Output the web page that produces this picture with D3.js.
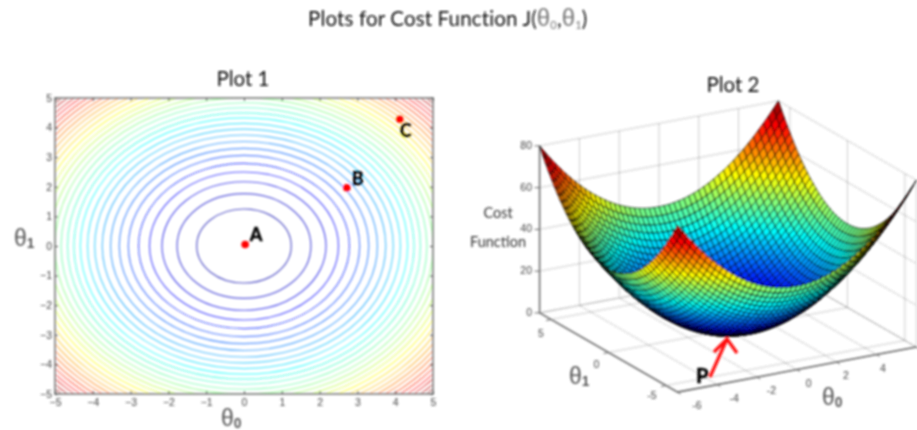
<!DOCTYPE html>
<html lang="en">
<head>
  <meta charset="UTF-8">
  <title>Plots for Cost Function</title>
  <script src="https://d3js.org/d3.v7.min.js"></script>
  <style>
    body { margin: 0; background: #fff; overflow: hidden; }
    svg { display: block; }
    text { font-family: Lato, "Open Sans", sans-serif; }
    .tick-label { font-family: "Liberation Sans", sans-serif; font-size: 10.5px; fill: #444; }
    .theta { font-family: "Liberation Sans", sans-serif; fill: #555; }
    .grid { fill: none; stroke: #555; stroke-width: 0.9; stroke-dasharray: 1 2; }
  </style>
</head>
<body>
  <script>
    const width = 917;
    const height = 430;

    // Plot 1: contour radii read along the theta0 axis, markers, ticks
    const contourRadii = [1.25, 1.77, 2.17, 2.5, 2.79, 3.06, 3.3, 3.53, 3.75, 3.95, 4.14, 4.33, 4.5, 4.67, 4.84, 5.0,
      5.15, 5.3, 5.44, 5.58, 5.72, 5.86, 5.99, 6.12, 6.24, 6.37, 6.49, 6.61, 6.72, 6.84, 6.95, 7.07];
    const contourTicks = [-5, -4, -3, -2, -1, 0, 1, 2, 3, 4, 5];
    const markerNames = ["A", "B", "C"];
    const markerTheta0 = [0.03, 2.72, 4.12];
    const markerTheta1 = [0.05, 1.97, 4.28];

    // Plot 2: cost contributed by |theta| at 0, 0.25, 0.5 ... 6
    const costByAbsTheta = [0, 0.07, 0.28, 0.62, 1.1, 1.7, 2.5, 3.4, 4.4, 5.6, 6.9, 8.4, 10, 11.7, 13.6, 15.6, 17.8,
      20, 22.5, 25, 27.8, 30.6, 33.6, 36.7, 40];
    const thetaStep = 0.25;
    const theta0Ticks = [-6, -4, -2, 0, 2, 4];
    const theta0Grid = [-6, -4, -2, 0, 2, 4, 6];
    const theta1Ticks = [-5, 0, 5];
    const theta1Grid = [-6, -5, 0, 5, 6];
    const costTicks = [0, 20, 40, 60, 80];

    const jet = d3.scaleLinear()
      .domain([0, 0.125, 0.375, 0.625, 0.875, 1])
      .range(["#00008f", "#0000ff", "#00ffff", "#ffff00", "#ff0000", "#800000"]);

    const svg = d3.select("body").append("svg")
      .attr("width", width)
      .attr("height", height);

    const defs = svg.append("defs");
    defs.append("filter").attr("id", "soft")
      .attr("filterUnits", "userSpaceOnUse")
      .attr("x", 0).attr("y", 0).attr("width", width).attr("height", height)
      .append("feGaussianBlur").attr("stdDeviation", 0.8);
    defs.append("clipPath").attr("id", "plot1clip")
      .append("rect").attr("x", 55).attr("y", 98).attr("width", 378).attr("height", 296);

    const root = svg.append("g").attr("filter", "url(#soft)");

    // theta label with a subscript, used for the axes
    function thetaLabel(parent, x, y, size, sub) {
      const t = parent.append("text").attr("class", "theta")
        .attr("x", x).attr("y", y).attr("font-size", size);
      t.append("tspan").text("θ");
      t.append("tspan").attr("font-size", size * 0.6).attr("font-weight", 700).attr("dy", 2).text(sub);
      return t;
    }

    // title
    const title = root.append("text")
      .attr("x", 308).attr("y", 26)
      .attr("font-size", 20.5).attr("fill", "#111").attr("letter-spacing", 0.15);
    title.append("tspan").text("Plots for Cost Function J(");
    title.append("tspan").attr("fill", "#777").attr("font-family", "Liberation Sans").attr("font-size", 24).text("θ");
    title.append("tspan").attr("fill", "#777").attr("font-size", 11).attr("dy", 3).text("0");
    title.append("tspan").attr("dy", -3).text(",");
    title.append("tspan").attr("fill", "#777").attr("font-family", "Liberation Sans").attr("font-size", 24).text("θ");
    title.append("tspan").attr("fill", "#777").attr("font-size", 11).attr("dy", 3).text("1");
    title.append("tspan").attr("dy", -3).text(")");

    // ---- Plot 1 ----
    const x1 = d3.scaleLinear().domain([-5, 5]).range([55, 433]);
    const y1 = d3.scaleLinear().domain([-5, 5]).range([394, 98]);

    root.append("text").attr("x", 243).attr("y", 86).attr("text-anchor", "middle")
      .attr("font-size", 20.5).attr("fill", "#111").text("Plot 1");

    root.append("g").attr("clip-path", "url(#plot1clip)")
      .selectAll("ellipse").data(contourRadii).enter().append("ellipse")
      .attr("cx", x1(0))
      .attr("cy", y1(0))
      .attr("rx", d => x1(d) - x1(0))
      .attr("ry", d => y1(0) - y1(d))
      .attr("fill", "none")
      .attr("stroke", d => jet(d * d / 50))
      .attr("stroke-width", 1.2)
      .attr("stroke-opacity", 0.65);

    root.append("rect").attr("x", 55).attr("y", 98).attr("width", 378).attr("height", 296)
      .attr("fill", "none").attr("stroke", "#888").attr("stroke-width", 1.8);

    function styleAxis(g) {
      g.select(".domain").remove();
      g.selectAll("line").attr("stroke", "#444").attr("stroke-width", 1);
      g.selectAll("text").attr("class", "tick-label");
    }
    root.append("g").attr("transform", "translate(0,394)")
      .call(d3.axisBottom(x1).tickValues(contourTicks).tickSize(-3).tickPadding(5).tickFormat(d3.format("d")))
      .call(styleAxis);
    root.append("g").attr("transform", "translate(55,0)")
      .call(d3.axisLeft(y1).tickValues(contourTicks).tickSize(-3).tickPadding(3).tickFormat(d3.format("d")))
      .call(styleAxis);
    root.append("g").attr("transform", "translate(0,98)")
      .call(d3.axisTop(x1).tickValues(contourTicks).tickSize(-3).tickFormat(""))
      .call(styleAxis);
    root.append("g").attr("transform", "translate(433,0)")
      .call(d3.axisRight(y1).tickValues(contourTicks).tickSize(-3).tickFormat(""))
      .call(styleAxis);

    const markers = root.append("g");
    markers.selectAll("circle").data(markerNames).enter().append("circle")
      .attr("cx", (d, i) => x1(markerTheta0[i]))
      .attr("cy", (d, i) => y1(markerTheta1[i]))
      .attr("r", 3.8)
      .attr("fill", "#ff0000");
    markers.selectAll("text").data(markerNames).enter().append("text")
      .attr("x", (d, i) => x1(markerTheta0[i]) + [11, 11, 6][i])
      .attr("y", (d, i) => y1(markerTheta1[i]) + [-4, -3, 18][i])
      .attr("text-anchor", "middle")
      .attr("font-size", 18).attr("font-weight", 900).attr("fill", "#000")
      .attr("stroke", "#000").attr("stroke-width", 0.4)
      .text(d => d);

    thetaLabel(root, 14, 246, 23, "1");
    thetaLabel(root, 221, 426, 23, "0");

    // ---- Plot 2 ----
    // oblique view of the box: each scale gives the screen offset of one data axis
    const theta0X = d3.scaleLinear().domain([-6, 6]).range([-119.4, 119.4]);
    const theta0Y = d3.scaleLinear().domain([-6, 6]).range([22.5, -22.5]);
    const theta1X = d3.scaleLinear().domain([-6, 6]).range([69, -69]);
    const theta1Y = d3.scaleLinear().domain([-6, 6]).range([39.6, -39.6]);
    const costY = d3.scaleLinear().domain([0, 80]).range([0, -167]);
    const originX = 728;
    const originY = 330;

    const project = (t0, t1, z) => [
      originX + theta0X(t0) + theta1X(t1),
      originY + theta0Y(t0) + theta1Y(t1) + costY(z)
    ];
    const line = pts => "M" + pts.map(p => p.join(",")).join("L");
    const costAt = t => costByAbsTheta[Math.round(Math.abs(t) / thetaStep)];
    const cost = (t0, t1) => costAt(t0) + costAt(t1);

    root.append("text").attr("x", 733).attr("y", 92).attr("text-anchor", "middle")
      .attr("font-size", 20.5).attr("fill", "#111").text("Plot 2");

    // dotted box grid: floor, left-back wall, right-back wall
    const gridPaths = [];
    theta0Grid.forEach(t => {
      gridPaths.push(line([project(t, -6, 0), project(t, 6, 0), project(t, 6, 80)]));
    });
    theta1Grid.forEach(t => {
      gridPaths.push(line([project(-6, t, 0), project(6, t, 0), project(6, t, 80)]));
    });
    costTicks.forEach(c => {
      gridPaths.push(line([project(-6, 6, c), project(6, 6, c), project(6, -6, c)]));
    });
    root.append("g").selectAll("path").data(gridPaths).enter().append("path")
      .attr("class", "grid").attr("d", d => d);

    // solid axes
    const axes2 = root.append("g").attr("fill", "none").attr("stroke", "#666");
    axes2.append("path").attr("stroke-width", 1.5)
      .attr("d", line([project(-6, 6, 80), project(-6, 6, 0), project(-6, -6, 0), project(6, -6, 0)]));
    axes2.selectAll(".zt").data(costTicks).enter().append("path")
      .attr("d", d => {
        const p = project(-6, 6, d);
        return line([p, [p[0] - 5, p[1]]]);
      });
    axes2.selectAll(".t0").data(theta0Grid).enter().append("path")
      .attr("d", d => {
        const p = project(d, -6, 0);
        return line([p, [p[0] + 3, p[1] + 2]]);
      });
    axes2.selectAll(".t1").data(theta1Ticks).enter().append("path")
      .attr("d", d => {
        const p = project(-6, d, 0);
        return line([p, [p[0] - 5, p[1] + 1]]);
      });

    // surface cells, far ones first so the near wall covers them
    const thetaValues = d3.range(-6, 6, thetaStep);
    const cells = [];
    thetaValues.forEach(t0 => {
      thetaValues.forEach(t1 => {
        const t0b = t0 + thetaStep;
        const t1b = t1 + thetaStep;
        cells.push({
          depth: 3.75 * t0 + 6.6 * t1,
          level: (cost(t0, t1) + cost(t0b, t1) + cost(t0, t1b) + cost(t0b, t1b)) / 4 / 80,
          pts: [project(t0, t1, cost(t0, t1)), project(t0b, t1, cost(t0b, t1)),
            project(t0b, t1b, cost(t0b, t1b)), project(t0, t1b, cost(t0, t1b))]
        });
      });
    });
    cells.sort((a, b) => d3.descending(a.depth, b.depth));
    root.append("g").selectAll("path").data(cells).enter().append("path")
      .attr("d", d => line(d.pts) + "Z")
      .attr("fill", d => jet(d.level))
      .attr("stroke", "#000")
      .attr("stroke-width", 1)
      .attr("stroke-opacity", 0.9);

    // tick labels sit a little off the axes, placed by their own scales
    const labelX0 = d3.scaleLinear().domain([-6, 4]).range([697, 883]);
    const labelY0 = d3.scaleLinear().domain([-6, 4]).range([409, 372]);
    const labelX1 = d3.scaleLinear().domain([-5, 5]).range([652, 541]);
    const labelY1 = d3.scaleLinear().domain([-5, 5]).range([399, 337]);
    const labels2 = root.append("g").attr("text-anchor", "middle");
    labels2.selectAll(".a").data(theta0Ticks).enter().append("text")
      .attr("class", "tick-label")
      .attr("x", d => labelX0(d)).attr("y", d => labelY0(d)).text(d => d);
    labels2.selectAll(".b").data(theta1Ticks).enter().append("text")
      .attr("class", "tick-label")
      .attr("x", d => labelX1(d)).attr("y", d => labelY1(d)).text(d => d);
    root.append("g").attr("text-anchor", "end").selectAll("text").data(costTicks).enter().append("text")
      .attr("class", "tick-label")
      .attr("x", 532)
      .attr("y", d => project(-6, 6, d)[1] + 3)
      .text(d => d);

    root.append("text").attr("x", 498).attr("y", 218).attr("text-anchor", "middle")
      .attr("font-size", 14.5).attr("fill", "#333").text("Cost");
    root.append("text").attr("x", 498).attr("y", 247).attr("text-anchor", "middle")
      .attr("font-size", 14.5).attr("fill", "#333").text("Function");

    thetaLabel(root, 569, 384, 23, "1");
    thetaLabel(root, 822, 405, 23, "0");

    // arrow to the minimum
    root.append("path")
      .attr("d", "M710,377L727,339M714,352L727,339L737,353")
      .attr("fill", "none").attr("stroke", "#ff0f0f").attr("stroke-width", 3.2);
    root.append("text").attr("x", 696).attr("y", 383)
      .attr("font-size", 20).attr("font-weight", 900).attr("fill", "#000")
      .attr("stroke", "#000").attr("stroke-width", 0.4).text("P");
  </script>
</body>
</html>
